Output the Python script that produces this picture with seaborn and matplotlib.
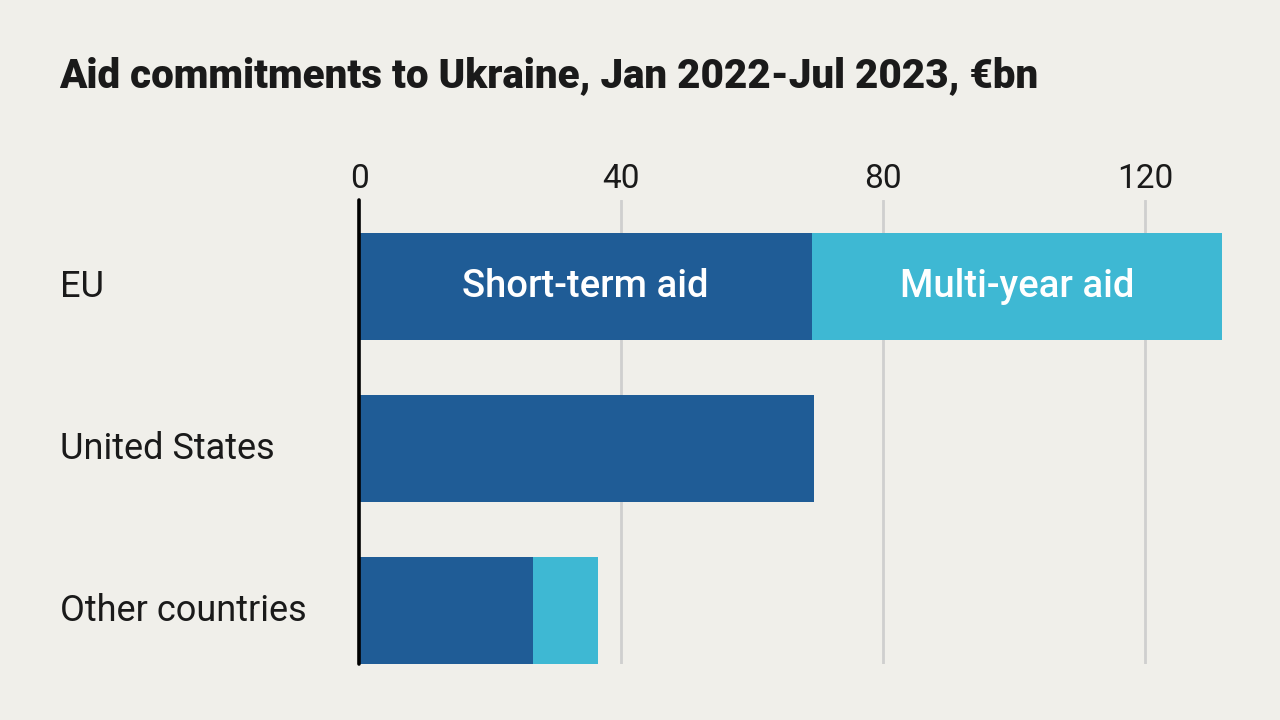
import numpy as np
import pandas as pd
import seaborn as sns
import matplotlib.pyplot as plt
from matplotlib.transforms import blended_transform_factory

sns.set_style('white')
plt.rcParams['font.family'] = ['Roboto', 'DejaVu Sans']

regions = ['EU', 'United States', 'Other countries']
short_term = [69.2, 69.4, 26.6]
multi_year = [62.5, 0.0, 9.9]
ticks = [0, 40, 80, 120]

bg = '#f0efea'
dark = '#1f5c96'
light = '#3eb8d3'

df = pd.DataFrame({'region': regions, 'short': short_term,
                   'total': np.array(short_term) + np.array(multi_year)})

fig = plt.figure(figsize=(12.8, 7.2), dpi=100, facecolor=bg)
ax = fig.add_axes([0.2805, 0.0778, 0.6805, 0.6442])
ax.set_facecolor(bg)

for t in ticks[1:]:
    ax.axvline(t, color='#cfcfcf', lw=2, zorder=0)

sns.barplot(data=df, x='total', y='region', color=light, width=0.66,
            saturation=1, linewidth=0, ax=ax, zorder=2)
sns.barplot(data=df, x='short', y='region', color=dark, width=0.66,
            saturation=1, linewidth=0, ax=ax, zorder=3)

ax.axvline(0, color='black', lw=2.6, zorder=4, clip_on=False)
ax.set_xlim(0, 133)
ax.set_ylim(2.33, -0.534)
ax.xaxis.tick_top()
ax.set_xticks(ticks)
ax.set_xticklabels([str(t) for t in ticks], fontsize=24, color='#1a1a1a')
ax.tick_params(axis='x', length=0, pad=4)
ax.set_yticks([])
ax.set_xlabel('')
ax.set_ylabel('')
for s in ax.spines.values():
    s.set_visible(False)

trans = blended_transform_factory(fig.transFigure, ax.transData)
for i, r in enumerate(regions):
    ax.text(0.047, i, r, transform=trans, ha='left', va='center',
            fontsize=26, color='#1a1a1a')

ax.text(short_term[0] / 2, 0, 'Short-term aid', ha='center', va='center',
        fontsize=27.5, color='white', fontweight='medium', zorder=5)
ax.text(short_term[0] + multi_year[0] / 2, 0, 'Multi-year aid', ha='center',
        va='center', fontsize=27.5, color='white', fontweight='medium', zorder=5)

fig.text(0.046, 0.895, 'Aid commitments to Ukraine, Jan 2022-Jul 2023, €bn',
         fontsize=29, fontweight='heavy', color='#1a1a1a', ha='left', va='center')

fig.savefig('out.png', dpi=100, facecolor=bg)
